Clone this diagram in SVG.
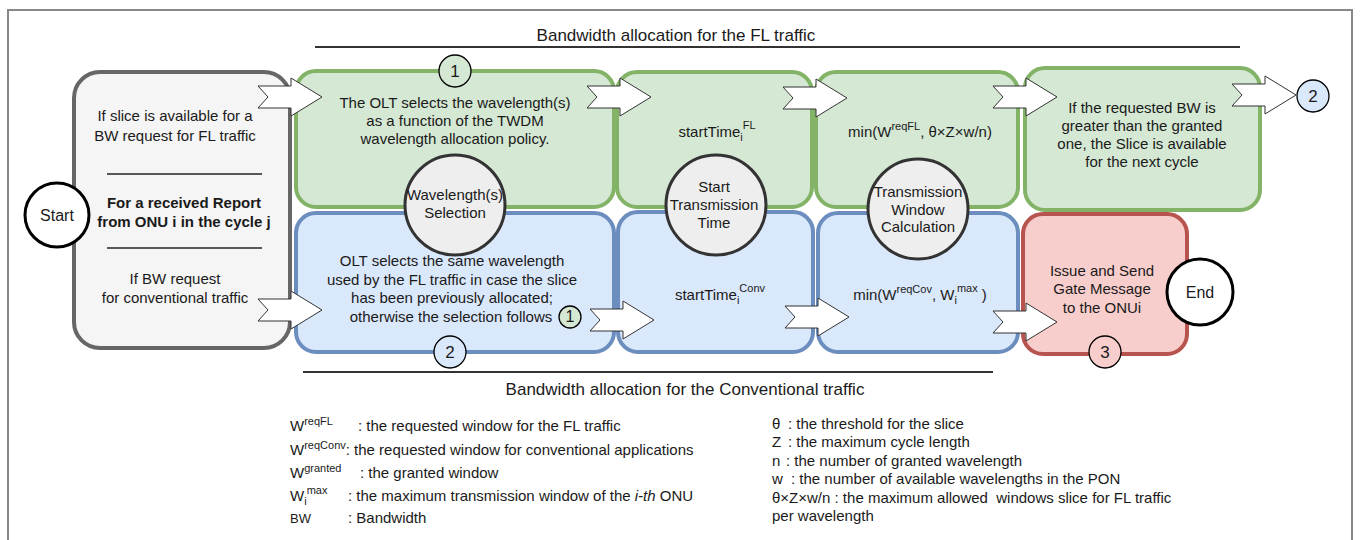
<svg xmlns="http://www.w3.org/2000/svg" xmlns:xlink="http://www.w3.org/1999/xlink" width="1360" height="540" viewBox="0 0 1360 540">
<style>
text{font-family:"Liberation Sans",Arial,sans-serif;fill:#1a1a1a;font-size:15px}
.c{text-anchor:middle}
.b{font-weight:bold}
.t{font-size:17px}
.sup{font-size:11px}
.g{fill:#d5e8d4;stroke:#82b366;stroke-width:4}
.bl{fill:#dae8fc;stroke:#6c8ebf;stroke-width:4}
.r{fill:#f8cecc;stroke:#b85450;stroke-width:4}
.gr{fill:#f5f5f5;stroke:#666;stroke-width:4}
.cg{fill:#eeeeee;stroke:#333;stroke-width:3}
.ce{fill:#fff;stroke:#000;stroke-width:3}
.sm{stroke:#000;stroke-width:1.3}
.arr{fill:#fff;stroke:#333;stroke-width:1}
.ln{stroke:#222;stroke-width:1.3}
.pre{white-space:pre}
.n{font-size:17px}
</style>
<defs>
<path id="arrow" d="M0,-11 L33,-11 L33,-19 L64,0 L33,19 L33,11 L0,11 L10,0 Z"/>
</defs>
<rect x="8" y="10" width="1344" height="545" fill="#fff" stroke="#888" stroke-width="2"/>

<g id="title-fl">
<text class="c t" x="676" y="41">Bandwidth allocation for the FL traffic</text>
<line x1="315" y1="47" x2="1240" y2="47" stroke="#333" stroke-width="2"/>
</g>
<g id="title-conv">
<line x1="303" y1="372" x2="993" y2="372" stroke="#333" stroke-width="2"/>
<text class="c t" x="685" y="395">Bandwidth allocation for the Conventional traffic</text>
</g>

<g id="request">
<rect class="gr" x="74" y="72" width="216" height="276" rx="26"/>
<text class="c" x="175" y="121">If slice is available for a</text>
<text class="c" x="175" y="141">BW request for FL traffic</text>
<line class="ln" x1="107" y1="174" x2="262" y2="174"/>
<text class="c b" x="184" y="208">For a received Report</text>
<text class="c b" x="184" y="227">from ONU i in the cycle j</text>
<line class="ln" x1="107" y1="248" x2="262" y2="248"/>
<text class="c" x="175" y="284">If BW request</text>
<text class="c" x="175" y="303">for conventional traffic</text>
</g>

<g id="start">
<circle class="ce" cx="57" cy="215" r="32"/>
<text class="c" x="57" y="221" style="font-size:16px">Start</text>
</g>

<g id="fl-wavelength">
<rect class="g" x="296" y="71" width="318" height="136" rx="20"/>
<text class="c" x="455" y="108">The OLT selects the wavelength(s)</text>
<text class="c" x="455" y="126">as a function of the TWDM</text>
<text class="c" x="455" y="144">wavelength allocation policy.</text>
</g>
<g id="fl-start">
<rect class="g" x="617" y="72" width="195" height="135" rx="20"/>
<text class="c" x="717" y="137">startTime<tspan class="sup" dy="4">i</tspan><tspan class="sup" dy="-12">FL</tspan></text>
</g>
<g id="fl-window">
<rect class="g" x="816" y="72" width="202" height="135" rx="20"/>
<text class="c" x="920" y="137">min(W<tspan class="sup" dy="-7">reqFL</tspan><tspan dy="7">, θ×Z×w/n)</tspan></text>
</g>
<g id="fl-next">
<rect class="g" x="1025" y="68" width="235" height="142" rx="20"/>
<text class="c" x="1142" y="113">If the requested BW is</text>
<text class="c" x="1142" y="131">greater than the granted</text>
<text class="c" x="1142" y="149">one, the Slice is available</text>
<text class="c" x="1142" y="167">for the next cycle</text>
</g>

<g id="conv-wavelength">
<rect class="bl" x="296" y="213" width="318" height="139" rx="20"/>
<text class="c" x="452" y="266">OLT selects the same wavelength</text>
<text class="c" x="452" y="285">used by the FL traffic in case the slice</text>
<text class="c" x="452" y="303">has been previously allocated;</text>
<text class="c" x="451" y="322">otherwise the selection follows</text>
</g>
<g id="conv-start">
<rect class="bl" x="618" y="212" width="195" height="140" rx="20"/>
<text class="c" x="720" y="300">startTime<tspan class="sup" dy="4">i</tspan><tspan class="sup" dy="-12">Conv</tspan></text>
</g>
<g id="conv-window">
<rect class="bl" x="818" y="213" width="200" height="139" rx="20"/>
<text class="c" x="920" y="300">min(W<tspan class="sup" dy="-7">reqCov</tspan><tspan dy="7">, W</tspan><tspan class="sup" dy="4">i</tspan><tspan class="sup" dy="-12">max</tspan><tspan dy="8"> )</tspan></text>
</g>

<g id="gate">
<rect class="r" x="1023" y="214" width="164" height="140" rx="20"/>
<text class="c" x="1102" y="276">Issue and Send</text>
<text class="c" x="1102" y="294">Gate Message</text>
<text class="c" x="1102" y="313">to the ONUi</text>
</g>
<g id="end">
<circle class="ce" cx="1200" cy="292" r="33"/>
<text class="c" x="1200" y="298" style="font-size:16px">End</text>
</g>

<g id="step-wavelength">
<circle class="cg" cx="455" cy="205" r="50"/>
<text class="c" x="455" y="200">Wavelength(s)</text>
<text class="c" x="455" y="218">Selection</text>
</g>
<g id="step-start">
<circle class="cg" cx="716" cy="205" r="50"/>
<text class="c" x="714" y="192">Start</text>
<text class="c" x="714" y="210">Transmission</text>
<text class="c" x="714" y="228">Time</text>
</g>
<g id="step-window">
<circle class="cg" cx="918" cy="209" r="50"/>
<text class="c" x="918" y="197">Transmission</text>
<text class="c" x="918" y="215">Window</text>
<text class="c" x="918" y="232">Calculation</text>
</g>

<g id="connectors">
<use href="#arrow" class="arr" transform="translate(258,97)"/>
<use href="#arrow" class="arr" transform="translate(587,97)"/>
<use href="#arrow" class="arr" transform="translate(783,98)"/>
<use href="#arrow" class="arr" transform="translate(993,97)"/>
<use href="#arrow" class="arr" transform="translate(1232,95)"/>
<use href="#arrow" class="arr" transform="translate(258,310)"/>
<use href="#arrow" class="arr" transform="translate(590,320)"/>
<use href="#arrow" class="arr" transform="translate(785,317)"/>
<use href="#arrow" class="arr" transform="translate(993,322)"/>
</g>

<g id="ref-1-top">
<circle class="sm" cx="455" cy="71" r="16" fill="#d5e8d4"/>
<text class="c n" x="455" y="77">1</text>
</g>
<g id="ref-1-inline">
<circle class="sm" cx="570" cy="317" r="11" fill="#d5e8d4"/>
<text class="c" x="570" y="322" style="font-size:16px">1</text>
</g>
<g id="ref-2-right">
<circle class="sm" cx="1313" cy="96" r="16" fill="#dae8fc"/>
<text class="c n" x="1313" y="102">2</text>
</g>
<g id="ref-2-bottom">
<circle class="sm" cx="450" cy="352" r="16" fill="#dae8fc"/>
<text class="c n" x="450" y="358">2</text>
</g>
<g id="ref-3">
<circle class="sm" cx="1105" cy="352" r="16" fill="#f8cecc"/>
<text class="c n" x="1105" y="358">3</text>
</g>

<g id="legend-left">
<text x="290" y="431">W<tspan class="sup" dy="-6">reqFL</tspan></text>
<text x="358" y="431">: the requested window for the FL traffic</text>
<text x="290" y="455">W<tspan class="sup" dy="-6">reqConv</tspan><tspan dy="6">: the requested window for conventional applications</tspan></text>
<text x="290" y="478">W<tspan class="sup" dy="-6">granted</tspan></text>
<text x="360" y="478">: the granted window</text>
<text x="290" y="501">W<tspan class="sup" dy="4">i</tspan><tspan class="sup" dy="-11">max</tspan></text>
<text x="348" y="501">: the maximum transmission window of the <tspan font-style="italic">i-th</tspan> ONU</text>
<text x="290" y="523" style="font-size:13px">BW</text>
<text x="348" y="523">: Bandwidth</text>
</g>
<g id="legend-right">
<text x="772" y="429">θ</text><text x="788" y="429">: the threshold for the slice</text>
<text x="772" y="447">Z</text><text x="788" y="447">: the maximum cycle length</text>
<text x="772" y="466">n</text><text x="786" y="466">: the number of granted wavelength</text>
<text x="772" y="484">w</text><text x="791" y="484">: the number of available wavelengths in the PON</text>
<text class="pre" x="772" y="503">θ×Z×w/n : the maximum allowed  windows slice for FL traffic</text>
<text x="772" y="521">per wavelength</text>
</g>
</svg>
